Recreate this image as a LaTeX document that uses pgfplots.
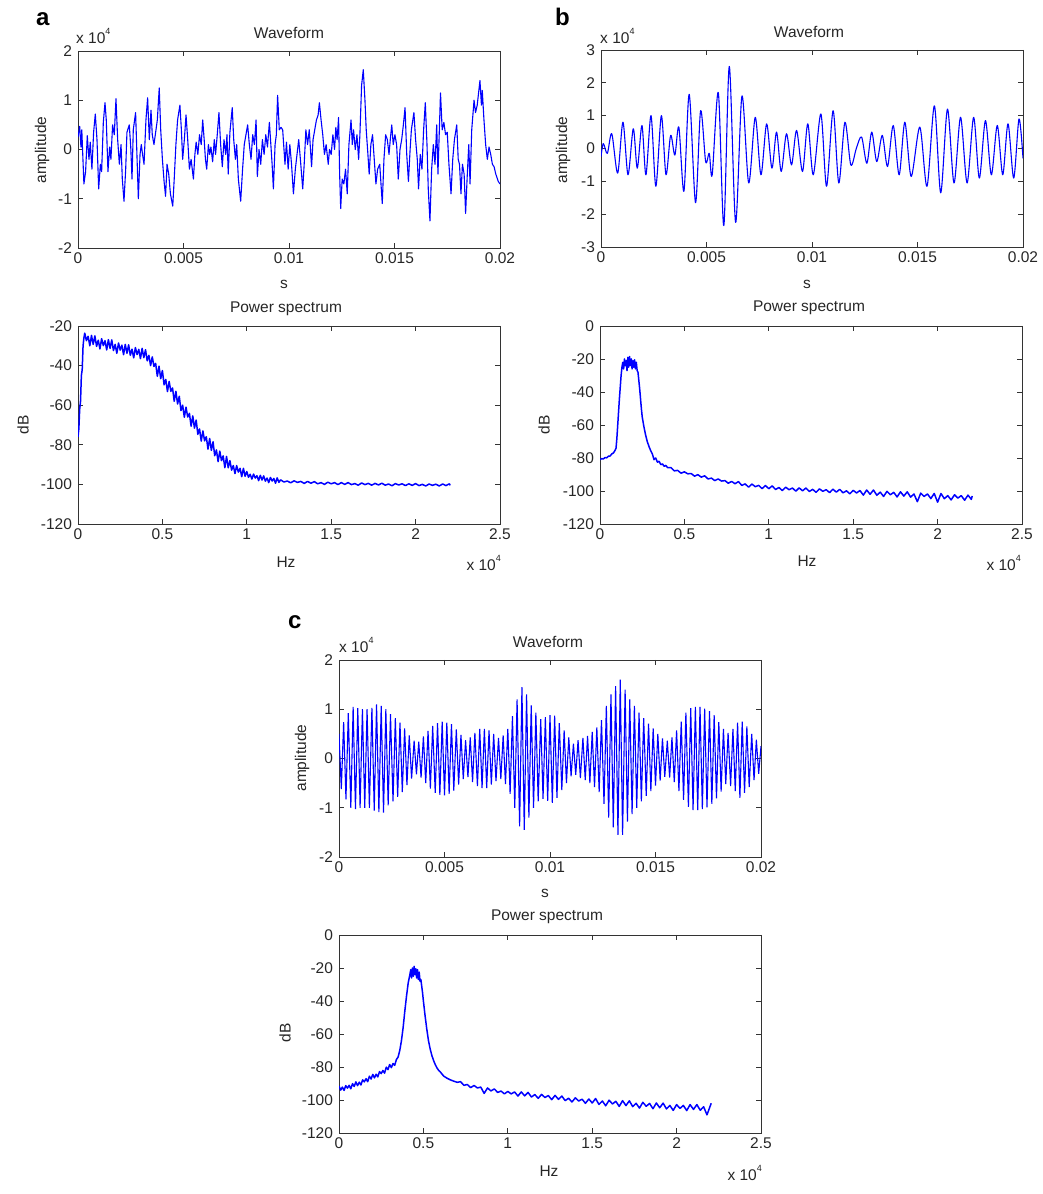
\documentclass[border=0pt]{standalone}
\usepackage{pgfplots}
\pgfplotsset{compat=1.18}
\usepackage{fontspec}
\setmainfont{Liberation Sans}
\definecolor{traceblue}{RGB}{0,0,255}
\newcommand{\lbl}{\fontsize{15.5}{18}\selectfont}
\newcommand{\scaletxt}{x 10\raisebox{0.55em}{\fontsize{9}{9}\selectfont 4}}
\pgfplotsset{
  panel/.style={
    scale only axis, width=422pt, anchor=south west,
    axis line style={black!80, line width=0.8pt},
    tick style={black!80, line width=0.7pt},
    major tick length=5pt,
    tick label style={font=\lbl, text=black!85},
    yticklabel style={xshift=-2.5pt},
    xticklabel style={yshift=-1.5pt},
  },
  wave/.style={panel, height=197pt, xmin=0, xmax=20,
    xtick={0,5,10,15,20}, xticklabels={0,0.005,0.01,0.015,0.02}},
  spec/.style={panel, height=198pt, xmin=0, xmax=2.5, ymin=-120,
    xtick={0,0.5,1,1.5,2,2.5}, xticklabels={0,0.5,1,1.5,2,2.5}},
  trace/.style={traceblue, line width=1.1pt, line join=round},
  spectrace/.style={traceblue, line width=1.5pt, line join=round},
}
\begin{document}
\begin{tikzpicture}
\useasboundingbox (0,0) rectangle (1043pt,1194pt);

% ---------------- panel a: waveform (time in ms, amplitude in 1e4) ----------------
\begin{axis}[wave, at={(78pt,946pt)}, ymin=-2, ymax=2,
  ytick={-2,-1,0,1,2}, yticklabels={-2,-1,0,1,2}]
\addplot[trace] coordinates {
(0,0.25)(0.08,0.47)(0.14,0.05)(0.18,0.40)(0.28,-0.70)(0.36,-0.45)(0.44,0.28)(0.52,-0.20)(0.58,0.15)(0.66,-0.40)
(0.74,0.35)(0.82,0.72)(0.90,0.20)(0.98,-0.80)(1.06,-0.30)(1.12,-0.45)(1.20,0.55)(1.28,0.95)(1.34,0.60)(1.42,-0.45)
(1.50,0.05)(1.56,-0.20)(1.64,0.50)(1.72,0.30)(1.80,1.03)(1.88,0.20)(1.96,-0.30)(2.04,0.10)(2.10,-0.60)(2.18,-1.05)
(2.26,-0.40)(2.32,0.35)(2.43,0.50)(2.50,0.05)(2.56,-0.60)(2.62,0.40)(2.73,0.75)(2.80,-0.20)(2.86,-1.00)(2.94,-0.10)
(3.00,0.10)(3.06,-0.10)(3.13,-0.30)(3.22,0.60)(3.30,1.05)(3.38,0.20)(3.46,0.80)(3.52,0.30)(3.60,0.10)(3.68,0.35)
(3.76,0.60)(3.85,1.25)(3.92,0.40)(4.00,-0.20)(4.08,-0.65)(4.15,-0.95)(4.22,-0.30)(4.30,-0.50)(4.38,-0.90)(4.49,-1.15)
(4.56,-0.60)(4.64,0.10)(4.72,0.60)(4.83,0.90)(4.90,0.40)(4.96,-0.20)(5.04,0.20)(5.12,0.70)(5.20,0.20)(5.28,-0.40)
(5.36,-0.20)(5.47,-0.60)(5.54,-0.10)(5.60,0.15)(5.68,-0.10)(5.76,0.30)(5.84,0.10)(5.91,0.60)(5.98,0.20)(6.04,-0.20)
(6.10,-0.40)(6.18,0.10)(6.24,-0.10)(6.30,0.05)(6.38,-0.25)(6.46,0.20)(6.52,-0.10)(6.60,0.30)(6.68,0.75)(6.76,0.10)
(6.84,-0.35)(6.92,0.20)(7.00,-0.10)(7.06,0.30)(7.12,-0.50)(7.20,0.35)(7.31,0.85)(7.38,0.20)(7.46,-0.20)(7.52,0.10)
(7.60,-0.60)(7.71,-1.05)(7.80,-0.40)(7.88,0.10)(7.96,0.30)(8.04,0.50)(8.12,0.10)(8.20,-0.20)(8.28,0.30)(8.36,0.10)
(8.44,0.60)(8.50,-0.55)(8.58,0.00)(8.66,-0.30)(8.74,0.20)(8.82,-0.10)(8.90,0.30)(8.98,0.05)(9.07,0.55)(9.14,0.10)
(9.20,-0.30)(9.26,-0.80)(9.34,0.10)(9.40,0.30)(9.46,1.10)(9.54,0.40)(9.62,0.45)(9.70,0.40)(9.81,-0.30)(9.88,0.15)
(9.96,-0.40)(10.04,0.10)(10.12,-0.30)(10.21,-0.90)(10.30,-0.40)(10.38,-0.10)(10.46,0.20)(10.54,-0.20)(10.65,-0.80)(10.72,-0.30)
(10.80,0.40)(10.88,0.10)(10.96,0.40)(11.07,-0.35)(11.14,0.20)(11.22,0.40)(11.30,0.60)(11.38,0.70)(11.44,0.95)(11.52,0.60)
(11.60,0.30)(11.68,-0.10)(11.76,0.10)(11.86,-0.30)(11.92,0.00)(12.00,-0.10)(12.08,0.30)(12.16,0.00)(12.22,0.45)(12.28,0.20)
(12.35,0.65)(12.40,-0.50)(12.45,-1.20)(12.52,-0.60)(12.60,-0.70)(12.68,-0.40)(12.76,-0.90)(12.84,0.10)(12.94,0.60)(13.00,0.10)
(13.06,0.40)(13.14,0.00)(13.22,0.30)(13.30,-0.20)(13.36,0.30)(13.44,1.30)(13.52,1.62)(13.60,1.00)(13.66,0.40)(13.74,-0.10)
(13.80,-0.50)(13.88,0.10)(13.96,0.30)(14.04,-0.20)(14.12,-0.70)(14.20,-0.40)(14.30,-0.30)(14.42,-1.10)(14.50,-0.20)(14.58,0.30)
(14.66,0.20)(14.74,-0.10)(14.80,0.20)(14.87,0.50)(14.94,0.10)(15.02,0.30)(15.10,0.10)(15.18,-0.60)(15.26,0.00)(15.34,0.20)
(15.42,0.50)(15.50,0.85)(15.58,-0.10)(15.66,-0.65)(15.74,0.00)(15.80,0.40)(15.92,0.75)(16.00,0.20)(16.08,-0.20)(16.14,-0.80)
(16.22,-0.10)(16.30,-0.40)(16.38,0.40)(16.46,0.95)(16.54,0.10)(16.60,-0.80)(16.68,-1.45)(16.76,-0.40)(16.84,0.10)(16.92,-0.30)
(17.00,0.50)(17.06,-0.50)(17.18,1.15)(17.26,0.40)(17.34,0.55)(17.42,0.30)(17.50,0.35)(17.58,-0.30)(17.68,-0.90)(17.76,-0.20)
(17.84,0.20)(17.95,0.50)(18.02,-0.20)(18.08,-0.30)(18.15,-0.90)(18.22,-0.30)(18.30,-0.50)(18.37,-1.30)(18.44,-0.60)(18.52,0.10)
(18.58,-0.70)(18.66,0.40)(18.77,1.00)(18.84,0.75)(18.92,0.90)(19.05,1.40)(19.12,0.90)(19.16,1.20)(19.24,0.60)(19.32,0.10)
(19.40,-0.20)(19.48,0.05)(19.56,-0.10)(19.64,-0.30)(19.72,-0.35)(19.80,-0.50)(19.92,-0.65)(20.00,-0.70)
};
\end{axis}

% ---------------- panel a: power spectrum (frequency in 1e4 Hz) ----------------
\begin{axis}[spec, at={(78pt,670pt)}, ymax=-20,
  ytick={-120,-100,-80,-60,-40,-20}, yticklabels={-120,-100,-80,-60,-40,-20}]
\addplot[spectrace] table {
0 -76
0.005 -72
0.01 -62
0.015 -58
0.02 -45
0.025 -42
0.03 -30
0.035 -26
0.04 -23.6
0.05 -27.4
0.06 -25.2
0.07 -30.0
0.08 -24.8
0.09 -29.3
0.10 -25.0
0.11 -30.3
0.12 -27.2
0.13 -31.6
0.14 -26.4
0.15 -29.9
0.16 -27.4
0.17 -32.1
0.18 -26.9
0.19 -31.3
0.20 -27.0
0.21 -32.4
0.22 -29.3
0.23 -33.8
0.24 -28.6
0.25 -32.2
0.26 -29.7
0.27 -34.5
0.28 -29.3
0.29 -33.8
0.30 -29.5
0.31 -34.8
0.32 -31.7
0.33 -36.1
0.34 -30.9
0.35 -34.4
0.36 -31.8
0.37 -36.5
0.38 -31.3
0.39 -36.0
0.40 -32.0
0.41 -37.6
0.42 -34.8
0.43 -40.0
0.44 -35.6
0.45 -40.4
0.46 -38.9
0.47 -45.4
0.48 -40.3
0.49 -46.6
0.50 -42.5
0.51 -49.7
0.52 -47.0
0.53 -53.1
0.54 -48.0
0.55 -53.0
0.56 -51.3
0.57 -58.0
0.58 -53.0
0.59 -59.4
0.60 -55.5
0.61 -62.7
0.62 -60.0
0.63 -66.1
0.64 -61.0
0.65 -66.0
0.66 -64.1
0.67 -70.6
0.68 -65.4
0.69 -71.6
0.70 -67.5
0.71 -74.7
0.72 -72.0
0.73 -78.1
0.74 -73.0
0.75 -78.0
0.76 -75.9
0.77 -82.2
0.78 -76.8
0.79 -82.8
0.80 -78.5
0.81 -85.5
0.82 -82.6
0.83 -88.5
0.84 -83.2
0.85 -88.0
0.86 -85.6
0.87 -91.6
0.88 -85.9
0.89 -91.6
0.90 -88.0
0.91 -92.8
0.92 -90.5
0.93 -94.5
0.94 -90.5
0.95 -93.8
0.96 -91.9
0.97 -96.1
0.98 -91.9
0.99 -95.9
1.00 -93.5
1.01 -96.4
1.02 -94.9
1.03 -97.3
1.04 -94.8
1.05 -96.8
1.06 -95.6
1.07 -98.1
1.08 -95.4
1.09 -97.8
1.10 -95.7
1.11 -98.4
1.12 -96.8
1.13 -99.1
1.14 -96.5
1.15 -98.3
1.16 -97.0
1.17 -99.4
1.18 -96.7
1.19 -99.0
1.20 -97.7
1.22 -98.8
1.24 -98.3
1.26 -99.2
1.28 -98.2
1.30 -99.0
1.32 -98.5
1.34 -99.5
1.36 -98.5
1.38 -99.4
1.40 -98.6
1.42 -99.7
1.44 -99.1
1.46 -100.0
1.48 -98.9
1.50 -99.7
1.52 -99.1
1.54 -100.1
1.56 -99.1
1.58 -100.0
1.60 -99.1
1.62 -100.1
1.64 -99.6
1.66 -100.4
1.68 -99.3
1.70 -100.1
1.72 -99.5
1.74 -100.4
1.76 -99.5
1.78 -100.3
1.80 -99.4
1.82 -100.4
1.84 -99.8
1.86 -100.7
1.88 -99.6
1.90 -100.3
1.92 -99.7
1.94 -100.6
1.96 -99.7
1.98 -100.5
2.00 -99.6
2.02 -100.6
2.04 -100.0
2.06 -100.8
2.08 -99.8
2.10 -100.5
2.12 -99.9
2.14 -100.8
2.16 -99.8
2.18 -100.6
2.20 -99.7
2.205 -100.5
};
\end{axis}

% ---------------- panel b: waveform ----------------
\begin{axis}[wave, at={(601pt,947pt)}, ymin=-3, ymax=3,
  ytick={-3,-2,-1,0,1,2,3}, yticklabels={-3,-2,-1,0,1,2,3}]
\addplot[trace, smooth] coordinates {
(0,-0.25)(0.11,0.15)(0.30,-0.15)(0.51,0.45)(0.79,-0.75)(1.04,0.80)(1.28,-0.80)(1.53,0.60)(1.72,-0.60)(1.94,0.70)
(2.13,-0.80)(2.37,1.00)(2.60,-1.15)(2.86,1.00)(3.08,-0.80)(3.30,0.40)(3.50,-0.20)(3.69,0.65)(3.93,-1.30)(4.18,1.65)
(4.48,-1.65)(4.72,1.15)(4.96,-0.40)(5.13,-0.15)(5.27,-0.80)(5.56,1.70)(5.82,-2.35)(6.08,2.50)(6.38,-2.25)(6.68,1.60)
(7.00,-1.05)(7.31,0.95)(7.58,-0.80)(7.85,0.75)(8.10,-0.60)(8.32,0.50)(8.54,-0.70)(8.79,0.45)(9.03,-0.50)(9.27,0.55)
(9.55,-0.70)(9.80,0.75)(10.06,-0.80)(10.42,1.05)(10.69,-1.15)(11.00,1.15)(11.27,-1.05)(11.56,0.80)(11.84,-0.50)(12.10,0.00)
(12.35,0.35)(12.60,-0.45)(12.83,0.50)(13.07,-0.40)(13.33,0.40)(13.58,-0.55)(13.85,0.70)(14.13,-0.80)(14.40,0.80)(14.70,-0.85)
(15.11,0.65)(15.45,-1.15)(15.80,1.30)(16.10,-1.35)(16.42,1.20)(16.73,-1.05)(17.04,0.95)(17.35,-1.05)(17.66,0.95)(17.93,-0.90)
(18.22,0.85)(18.50,-0.80)(18.78,0.70)(19.04,-0.80)(19.29,0.75)(19.56,-0.90)(19.81,0.90)(20.00,-0.30)
};
\end{axis}

% ---------------- panel b: power spectrum ----------------
\begin{axis}[spec, at={(600pt,670pt)}, ymax=0,
  ytick={-120,-100,-80,-60,-40,-20,0}, yticklabels={-120,-100,-80,-60,-40,-20,0}]
\addplot[spectrace] table {
0 -81.0
0.01 -80.4
0.02 -80.6
0.03 -79.7
0.04 -79.9
0.05 -78.9
0.06 -78.8
0.07 -77.5
0.08 -76.9
0.09 -75.2
0.095 -74.0
0.10 -68
0.105 -60
0.11 -52
0.115 -44
0.12 -37
0.125 -30
0.13 -25
0.135 -22
0.14 -26
0.145 -20
0.15 -24
0.155 -21
0.16 -27
0.165 -19
0.17 -25
0.175 -18.5
0.18 -24
0.185 -20
0.19 -26
0.195 -21
0.20 -25
0.205 -20.5
0.21 -26
0.215 -22
0.22 -27
0.225 -28
0.23 -33
0.235 -38
0.24 -44
0.245 -50
0.25 -55
0.26 -61
0.27 -66
0.28 -70
0.29 -73
0.30 -75.5
0.31 -77.5
0.32 -81.0
0.33 -80.0
0.34 -82.5
0.35 -82.0
0.36 -84.0
0.37 -83.6
0.38 -85.0
0.39 -84.5
0.40 -85.8
0.42 -85.8
0.44 -87.8
0.46 -87.5
0.48 -89.2
0.50 -88.4
0.52 -89.6
0.54 -89.4
0.56 -91.0
0.58 -90.1
0.60 -91.6
0.62 -90.8
0.64 -92.7
0.66 -92.2
0.68 -93.7
0.70 -92.7
0.72 -94.0
0.74 -93.7
0.76 -95.3
0.78 -94.2
0.80 -95.6
0.82 -94.3
0.84 -96.6
0.86 -95.7
0.88 -97.7
0.90 -95.8
0.92 -97.4
0.94 -96.6
0.96 -98.6
0.98 -96.7
1.00 -98.6
1.02 -96.9
1.04 -99.1
1.06 -97.9
1.08 -99.7
1.10 -97.7
1.12 -99.2
1.14 -98.2
1.16 -100.1
1.18 -98.1
1.20 -99.9
1.22 -98.2
1.24 -100.3
1.26 -99.0
1.28 -100.8
1.30 -98.7
1.32 -100.2
1.34 -99.2
1.36 -101.0
1.38 -98.9
1.40 -100.7
1.42 -99.0
1.44 -101.1
1.46 -99.9
1.48 -101.7
1.50 -99.6
1.52 -101.2
1.54 -99.7
1.56 -102.5
1.58 -99.4
1.60 -102.0
1.62 -99.4
1.64 -102.6
1.66 -100.7
1.68 -103.3
1.70 -100.2
1.72 -102.3
1.74 -100.8
1.76 -103.6
1.78 -100.5
1.80 -103.1
1.82 -100.5
1.84 -103.7
1.86 -101.8
1.88 -106.5
1.90 -101.3
1.92 -103.3
1.94 -101.8
1.96 -104.6
1.98 -101.5
2.00 -106.8
2.02 -101.5
2.04 -104.7
2.06 -102.8
2.08 -105.4
2.10 -102.3
2.12 -104.3
2.14 -102.8
2.16 -105.6
2.18 -102.5
2.20 -105.1
2.205 -103.0
};
\end{axis}

% ---------------- panel c: waveform ----------------
\begin{axis}[wave, at={(339pt,337pt)}, ymin=-2, ymax=2,
  ytick={-2,-1,0,1,2}, yticklabels={-2,-1,0,1,2}]
\addplot[traceblue, line width=1.1pt] table {
0.00 0.50
0.11 -0.62
0.22 0.74
0.33 -0.83
0.44 0.92
0.56 -1.00
0.67 1.05
0.78 -1.03
0.89 1.02
1.00 -1.00
1.11 1.00
1.22 -1.00
1.33 1.00
1.44 -1.00
1.56 1.03
1.67 -1.06
1.78 1.10
1.89 -1.09
2.00 1.07
2.11 -1.10
2.22 1.00
2.33 -0.95
2.44 0.90
2.56 -0.87
2.67 0.82
2.78 -0.78
2.89 0.73
3.00 -0.68
3.11 0.61
3.22 -0.54
3.33 0.47
3.44 -0.41
3.56 0.36
3.67 -0.32
3.78 0.34
3.89 -0.39
4.00 0.45
4.11 -0.50
4.22 0.56
4.33 -0.61
4.44 0.66
4.56 -0.70
4.67 0.72
4.78 -0.74
4.89 0.75
5.00 -0.75
5.11 0.73
5.22 -0.72
5.33 0.70
5.44 -0.65
5.56 0.59
5.67 -0.53
5.78 0.48
5.89 -0.42
6.00 0.37
6.11 -0.38
6.22 0.43
6.33 -0.48
6.44 0.52
6.56 -0.56
6.67 0.60
6.78 -0.60
6.89 0.60
7.00 -0.60
7.11 0.57
7.22 -0.53
7.33 0.50
7.44 -0.46
7.56 0.42
7.67 -0.42
7.78 0.47
7.89 -0.52
8.00 0.60
8.11 -0.72
8.22 0.86
8.33 -1.00
8.44 1.20
8.56 -1.38
8.67 1.45
8.78 -1.45
8.89 1.30
9.00 -1.20
9.11 1.08
9.22 -1.00
9.33 0.93
9.44 -0.87
9.56 0.80
9.67 -0.82
9.78 0.84
9.89 -0.86
10.00 0.88
10.11 -0.90
10.22 0.87
10.33 -0.80
10.44 0.72
10.56 -0.64
10.67 0.57
10.78 -0.50
10.89 0.43
11.00 -0.36
11.11 0.30
11.22 -0.33
11.33 0.37
11.44 -0.40
11.56 0.42
11.67 -0.44
11.78 0.46
11.89 -0.50
12.00 0.54
12.11 -0.58
12.22 0.63
12.33 -0.68
12.44 0.78
12.56 -0.92
12.67 1.07
12.78 -1.20
12.89 1.30
13.00 -1.40
13.11 1.47
13.22 -1.55
13.33 1.60
13.44 -1.55
13.56 1.40
13.67 -1.28
13.78 1.20
13.89 -1.13
14.00 1.07
14.11 -1.00
14.22 0.93
14.33 -0.87
14.44 0.82
14.56 -0.76
14.67 0.71
14.78 -0.66
14.89 0.61
15.00 -0.55
15.11 0.50
15.22 -0.45
15.33 0.41
15.44 -0.37
15.56 0.36
15.67 -0.39
15.78 0.43
15.89 -0.48
16.00 0.57
16.11 -0.66
16.22 0.75
16.33 -0.84
16.44 0.93
16.56 -0.98
16.67 1.02
16.78 -1.05
16.89 1.05
17.00 -1.05
17.11 1.05
17.22 -1.03
17.33 1.01
17.44 -0.99
17.56 0.96
17.67 -0.92
17.78 0.88
17.89 -0.81
18.00 0.74
18.11 -0.67
18.22 0.60
18.33 -0.52
18.44 0.52
18.56 -0.56
18.67 0.60
18.78 -0.66
18.89 0.73
19.00 -0.80
19.11 0.75
19.22 -0.70
19.33 0.65
19.44 -0.58
19.56 0.50
19.67 -0.44
19.78 0.38
19.89 -0.31
20.00 0.25
};
\end{axis}

% ---------------- panel c: power spectrum ----------------
\begin{axis}[spec, at={(339pt,61pt)}, ymax=0,
  ytick={-120,-100,-80,-60,-40,-20,0}, yticklabels={-120,-100,-80,-60,-40,-20,0}]
\addplot[spectrace] table {
0.00 -91.5
0.01 -94.0
0.02 -92.2
0.03 -94.2
0.04 -91.3
0.05 -92.8
0.06 -91.1
0.07 -93.2
0.08 -90.1
0.09 -91.8
0.10 -89.0
0.11 -91.3
0.12 -89.2
0.13 -90.9
0.14 -87.8
0.15 -89.0
0.16 -87.1
0.17 -88.9
0.18 -85.6
0.19 -87.3
0.20 -84.5
0.21 -86.6
0.22 -84.4
0.23 -86.0
0.24 -82.8
0.25 -84.0
0.26 -82.1
0.27 -83.7
0.28 -80.1
0.29 -81.6
0.30 -78.5
0.31 -80.4
0.32 -77.9
0.33 -79.0
0.34 -75.5
0.35 -74
0.36 -70
0.37 -64
0.38 -56
0.39 -46
0.40 -37
0.41 -29
0.42 -24
0.425 -21
0.43 -26
0.435 -20
0.44 -25
0.445 -19
0.45 -24
0.455 -20.5
0.46 -26
0.465 -21
0.47 -27
0.475 -22.5
0.48 -28
0.485 -27
0.49 -31
0.495 -35
0.50 -40
0.51 -49
0.52 -57
0.53 -64
0.54 -69
0.55 -73
0.56 -76
0.57 -78.5
0.58 -80.5
0.59 -82
0.60 -83
0.62 -85.5
0.64 -86.8
0.66 -87.8
0.68 -88.6
0.70 -89.3
0.72 -88.9
0.74 -91.1
0.76 -90.6
0.78 -92.5
0.80 -91.2
0.82 -92.7
0.84 -92.2
0.86 -96.0
0.88 -92.7
0.90 -94.5
0.92 -93.3
0.94 -95.4
0.96 -94.6
0.98 -96.3
1.00 -94.8
1.02 -96.3
1.04 -95.1
1.06 -97.6
1.08 -95.1
1.10 -97.5
1.12 -95.4
1.14 -98.2
1.16 -96.7
1.18 -99.0
1.20 -96.6
1.22 -98.5
1.24 -97.3
1.26 -99.8
1.28 -97.2
1.30 -99.6
1.32 -97.6
1.34 -100.4
1.36 -98.9
1.38 -101.2
1.40 -98.7
1.42 -100.6
1.44 -99.5
1.46 -102.0
1.48 -99.4
1.50 -101.8
1.52 -99.1
1.54 -102.7
1.56 -100.6
1.58 -103.5
1.60 -100.1
1.62 -102.4
1.64 -100.8
1.66 -103.9
1.68 -100.4
1.70 -103.4
1.72 -100.5
1.74 -104.0
1.76 -102.0
1.78 -104.9
1.80 -101.4
1.82 -103.8
1.84 -102.1
1.86 -105.3
1.88 -101.8
1.90 -104.7
1.92 -101.9
1.94 -105.4
1.96 -103.3
1.98 -106.3
2.00 -102.8
2.02 -105.1
2.04 -103.3
2.06 -106.4
2.08 -102.8
2.10 -105.7
2.12 -102.8
2.14 -106.2
2.16 -104.1
2.18 -109.0
2.20 -103.4
2.205 -102.0
};
\end{axis}

% ---------------- panel letters, titles and axis labels ----------------
\begin{scope}[every node/.style={font=\lbl, text=black!85, inner sep=0pt}]
\node[font=\fontsize{24}{24}\selectfont\bfseries, text=black, anchor=base west] at (36pt,1168pt) {a};
\node[font=\fontsize{24}{24}\selectfont\bfseries, text=black, anchor=base west] at (555pt,1168pt) {b};
\node[font=\fontsize{24}{24}\selectfont\bfseries, text=black, anchor=base west] at (288pt,565pt) {c};

\node at (289pt,1161pt) {Waveform};
\node at (809pt,1162pt) {Waveform};
\node at (548pt,552pt) {Waveform};
\node at (286pt,885pt) {Power spectrum};
\node at (809pt,886pt) {Power spectrum};
\node at (547pt,277pt) {Power spectrum};

\node[rotate=90] at (42pt,1044pt) {amplitude};
\node[rotate=90] at (563pt,1044pt) {amplitude};
\node[rotate=90] at (302pt,436pt) {amplitude};
\node[rotate=90] at (23pt,769pt) {dB};
\node[rotate=90] at (544pt,769pt) {dB};
\node[rotate=90] at (285pt,161pt) {dB};

\node at (284pt,910pt) {s};
\node at (807pt,910pt) {s};
\node at (545pt,301pt) {s};
\node at (286pt,632pt) {Hz};
\node at (807pt,633pt) {Hz};
\node at (549pt,23pt) {Hz};

\node[anchor=west] at (76pt,1158pt) {\scaletxt};
\node[anchor=west] at (600pt,1158pt) {\scaletxt};
\node[anchor=west] at (339pt,549pt) {\scaletxt};
\node[anchor=east] at (501pt,631pt) {\scaletxt};
\node[anchor=east] at (1021pt,631pt) {\scaletxt};
\node[anchor=east] at (762pt,21pt) {\scaletxt};
\end{scope}
\end{tikzpicture}
\end{document}
